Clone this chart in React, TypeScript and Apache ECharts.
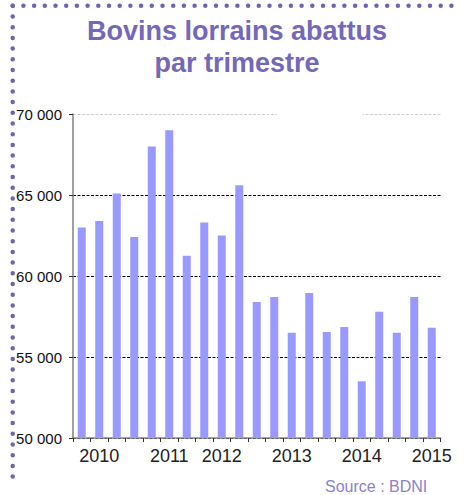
import React, { useEffect, useRef } from "react";
import * as echarts from "echarts";

const quarters = [
  "2010 T1", "2010 T2", "2010 T3", "2010 T4",
  "2011 T1", "2011 T2", "2011 T3", "2011 T4",
  "2012 T1", "2012 T2", "2012 T3", "2012 T4",
  "2013 T1", "2013 T2", "2013 T3", "2013 T4",
  "2014 T1", "2014 T2", "2014 T3", "2014 T4",
  "2015 T1",
];
const tickLabels = [
  "", "2010", "", "", "", "2011", "", "", "2012", "", "", "",
  "2013", "", "", "", "2014", "", "", "", "2015",
];
const abattus = [
  63000, 63400, 65100, 62400,
  68000, 69000, 61250, 63300,
  62500, 65600, 58400, 58700,
  56500, 58950, 56550, 56850,
  53500, 57800, 56500, 58700,
  56800,
];
const yTicks = { min: 50000, max: 70000, interval: 5000 };

const fmt = (v: number) => {
  const s = String(Math.round(v));
  return s.replace(/\B(?=(\d{3})+(?!\d))/g, " ");
};

export default function App() {
  const ref = useRef<HTMLDivElement>(null);
  useEffect(() => {
    if (!ref.current) return;
    const chart = echarts.init(ref.current, null, { renderer: "svg" });
    const dotStyle = {
      stroke: "#6e63b4",
      lineWidth: 4.5,
      lineCap: "round",
      lineDash: [0, 10.7],
      fill: null,
    };
    chart.setOption({
      animation: false,
      backgroundColor: "#fff",
      title: {
        text: "Bovins lorrains abattus\npar trimestre",
        left: 232,
        top: 10,
        textAlign: "center",
        textStyle: {
          fontFamily: "Liberation Sans, Arial, sans-serif",
          fontWeight: "bold",
          fontSize: 27,
          lineHeight: 32,
          color: "#7468b8",
        },
      },
      grid: { left: 73, right: 24.5, top: 114, bottom: 57, containLabel: false },
      xAxis: {
        type: "category",
        data: quarters,
        boundaryGap: true,
        axisLine: { lineStyle: { color: "#888", width: 1.6 } },
        axisTick: {
          show: true,
          interval: 0,
          alignWithLabel: false,
          length: 4,
          lineStyle: { color: "#333", width: 1 },
        },
        axisLabel: {
          interval: 0,
          margin: 9,
          fontFamily: "Liberation Sans, Arial, sans-serif",
          fontSize: 18,
          color: "#222",
          formatter: (_v: string, i: number) => tickLabels[i],
        },
        splitLine: { show: false },
      },
      yAxis: {
        type: "value",
        min: yTicks.min,
        max: yTicks.max,
        interval: yTicks.interval,
        axisLine: { show: true, lineStyle: { color: "#888", width: 1.6 } },
        axisTick: { show: true, length: 4, lineStyle: { color: "#333", width: 1 } },
        axisLabel: {
          margin: 11,
          fontFamily: "Liberation Sans, Arial, sans-serif",
          fontSize: 15,
          color: "#111",
          formatter: (v: number) => fmt(v),
        },
        splitLine: {
          show: true,
          lineStyle: {
            type: [3, 1.5],
            width: 1,
            color: ["#000", "#000", "#000", "#000", "#cfcfcf"],
          },
        },
      },
      series: [
        {
          type: "bar",
          data: abattus,
          barWidth: 8,
          itemStyle: { color: "#9999ff" },
        },
      ],
      graphic: [
        {
          type: "rect",
          shape: { x: 277, y: 112, width: 86, height: 4 },
          style: { fill: "#fff" },
          z: 10,
        },
        {
          type: "line",
          shape: { x1: 12.7, y1: 5.8, x2: 462, y2: 5.8 },
          style: dotStyle,
          z: 10,
        },
        {
          type: "line",
          shape: { x1: 12.7, y1: 5.8, x2: 12.7, y2: 482 },
          style: dotStyle,
          z: 10,
        },
        {
          type: "text",
          x: 325,
          y: 486,
          style: {
            text: "Source : BDNI",
            fontFamily: "Liberation Sans, Arial, sans-serif",
            fontSize: 16,
            fill: "#8a82cc",
            verticalAlign: "middle",
          },
          z: 10,
        },
      ],
    });
    return () => chart.dispose();
  }, []);
  return (
    <div
      ref={ref}
      style={{ position: "fixed", left: 0, top: 0, width: 465, height: 495 }}
    />
  );
}
